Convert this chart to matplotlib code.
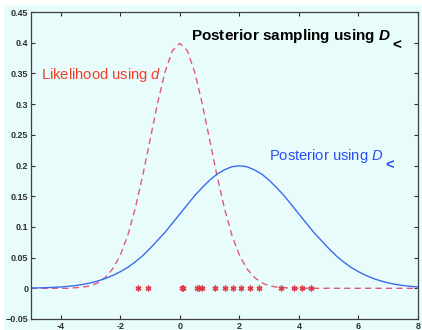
import numpy as np
import matplotlib.pyplot as plt
from matplotlib.patches import Rectangle

plt.rcParams['font.family'] = ['Liberation Sans', 'DejaVu Sans']
plt.rcParams['mathtext.fontset'] = 'custom'
plt.rcParams['mathtext.rm'] = 'Liberation Sans'
plt.rcParams['mathtext.it'] = 'Liberation Sans:italic'
plt.rcParams['mathtext.bf'] = 'Liberation Sans:bold'
plt.rcParams['mathtext.bfit'] = 'Liberation Sans:bold:italic'

# grid of x values the curves were read at
x_grid = np.arange(-5, 8.001, 0.25)

# likelihood (red dashed)
likelihood = [0, 0, 0, 0, 0, 0,
              0.001, 0.002, 0.004, 0.009, 0.018, 0.032, 0.054, 0.086,
              0.130, 0.183, 0.242, 0.301, 0.352, 0.387,
              0.399,
              0.387, 0.352, 0.301, 0.242, 0.183, 0.130, 0.086, 0.054,
              0.032, 0.018, 0.009, 0.004, 0.002, 0.001, 0.000,
              0, 0, 0, 0, 0, 0, 0, 0, 0, 0, 0, 0, 0, 0, 0, 0, 0]

# posterior (blue solid)
posterior = [0.0004, 0.0007, 0.0010, 0.0015, 0.0022, 0.0032, 0.0045, 0.0064,
             0.0088, 0.012, 0.016, 0.021, 0.027, 0.034, 0.043, 0.053,
             0.065, 0.078, 0.091, 0.106, 0.121, 0.136, 0.151, 0.164,
             0.176, 0.186, 0.193, 0.198,
             0.1995,
             0.198, 0.193, 0.186, 0.176, 0.164, 0.151, 0.136, 0.121,
             0.106, 0.091, 0.078, 0.065, 0.053, 0.043, 0.034, 0.027,
             0.021, 0.016, 0.012, 0.0088, 0.0064, 0.0045, 0.0032, 0.0022]

# samples (red stars on y=0)
samples = [-1.42, -1.06, 0.06, 0.11, 0.56, 0.65, 0.73, 1.17, 1.51, 1.79,
           2.07, 2.37, 2.65, 3.39, 3.84, 4.12, 4.40]

xticks = [-4, -2, 0, 2, 4, 6, 8]
yticks = [-0.05, 0, 0.05, 0.1, 0.15, 0.2, 0.25, 0.3, 0.35, 0.4, 0.45]
ytick_labels = ['\u22120.05', '0', '0.05', '0.1', '0.15', '0.2', '0.25',
                '0.3', '0.35', '0.4', '0.45']

bg = '#e9fcfc'
fig = plt.figure(figsize=(4.22, 3.30), dpi=100, facecolor='white')
fig.patches.append(Rectangle((4 / 422, 0), 1, 1 - 5 / 330, transform=fig.transFigure,
                             facecolor=bg, edgecolor='none', zorder=-10))
ax = fig.add_axes([31 / 422, 11 / 330, 387 / 422, 307 / 330])
ax.set_facecolor(bg)

ax.plot(x_grid, likelihood, color='#e0587a', linestyle=(0, (4.5, 3)), linewidth=1.0)
ax.plot(x_grid, posterior, color='#3b6cf0', linewidth=1.0)
ax.plot(samples, np.zeros(len(samples)), linestyle='none', marker=(6, 2, 0),
        markersize=4.2, markeredgewidth=1.0, color='#e03a46')

ax.set_xlim(-5, 8)
ax.set_ylim(-0.05, 0.45)
ax.set_xticks(xticks)
ax.set_xticklabels([str(t) for t in xticks])
ax.set_yticks(yticks)
ax.set_yticklabels(ytick_labels)
ax.tick_params(direction='in', top=True, right=True, length=3, width=0.8,
               labelsize=6.5, colors='#303030', pad=2)
for lbl in ax.get_xticklabels() + ax.get_yticklabels():
    lbl.set_fontweight('bold')
for s in ax.spines.values():
    s.set_color('#404040')
    s.set_linewidth(0.9)


def with_sub(x, y, txt, size, color, weight='normal'):
    # main text, then a large "<" dropped below the baseline
    t = ax.text(x, y, txt, color=color, fontsize=size, fontweight=weight,
                va='baseline', ha='left')
    fig.canvas.draw()
    bb = t.get_window_extent()
    ax.annotate('<', xy=(bb.x1, bb.y0), xycoords='figure pixels',
                xytext=(1.5, -5), textcoords='offset pixels',
                color=color, fontsize=size, fontweight='bold',
                va='baseline', ha='left')


ax.text(-4.66, 0.341, 'Likelihood using $\\mathit{d}$', color='#f0402a',
        fontsize=10.6, va='baseline', ha='left')
with_sub(2.99, 0.209, 'Posterior using $\\mathit{D}$', 10.6, '#2c4ef0')
with_sub(0.37, 0.405, 'Posterior sampling using $\\mathbfit{D}$', 11, 'black', 'bold')

fig.savefig('out.png', dpi=100, facecolor=fig.get_facecolor())
